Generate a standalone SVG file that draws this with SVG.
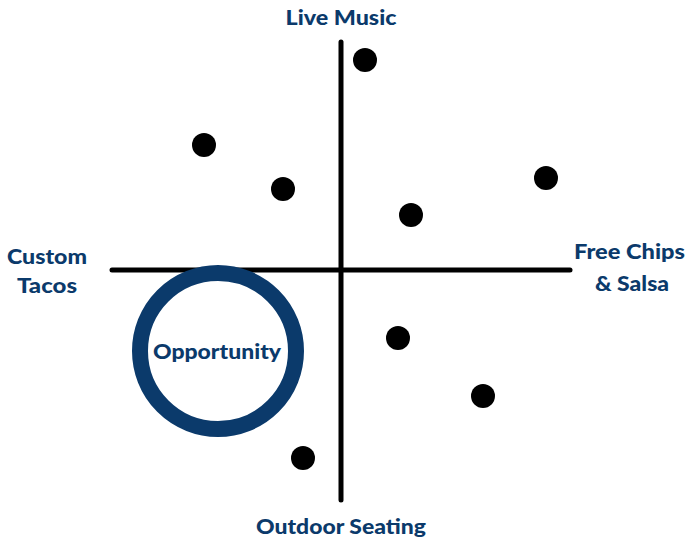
<svg xmlns="http://www.w3.org/2000/svg" width="692" height="545" viewBox="0 0 692 545">
<style>
.lbl{font-family:Lato,"Open Sans","Liberation Sans",sans-serif;font-weight:900;font-size:21px;fill:#0b3a6b;text-anchor:middle}
.axis{stroke:#000;stroke-width:5;stroke-linecap:round;fill:none}
.dot{fill:#000}
</style>
<rect width="692" height="545" fill="#fff"/>
<g id="axes">
<line class="axis" x1="341" y1="42" x2="341" y2="500"/>
<line class="axis" x1="112" y1="270" x2="570" y2="270"/>
</g>
<g id="labels">
<text class="lbl" x="341" y="25" textLength="111" lengthAdjust="spacingAndGlyphs">Live Music</text>
<text class="lbl" x="341" y="534" textLength="170" lengthAdjust="spacingAndGlyphs">Outdoor Seating</text>
<text class="lbl" x="47" y="264" textLength="80" lengthAdjust="spacingAndGlyphs">Custom</text>
<text class="lbl" x="47" y="293" textLength="60" lengthAdjust="spacingAndGlyphs">Tacos</text>
<text class="lbl" x="629.5" y="259" textLength="111" lengthAdjust="spacingAndGlyphs">Free Chips</text>
<text class="lbl" x="632" y="291" textLength="74" lengthAdjust="spacingAndGlyphs">&amp; Salsa</text>
</g>
<g id="dots">
<circle class="dot" cx="365" cy="60" r="12"/>
<circle class="dot" cx="204" cy="145" r="12"/>
<circle class="dot" cx="283" cy="189" r="12"/>
<circle class="dot" cx="546" cy="178" r="12"/>
<circle class="dot" cx="411" cy="215" r="12"/>
<circle class="dot" cx="398" cy="338" r="12"/>
<circle class="dot" cx="483" cy="396" r="12"/>
<circle class="dot" cx="303" cy="458" r="12"/>
</g>
<g id="opportunity">
<circle cx="218" cy="351" r="78" fill="#fff" stroke="#0b3a6b" stroke-width="16"/>
<text class="lbl" x="217" y="359" textLength="128" lengthAdjust="spacingAndGlyphs">Opportunity</text>
</g>
</svg>
